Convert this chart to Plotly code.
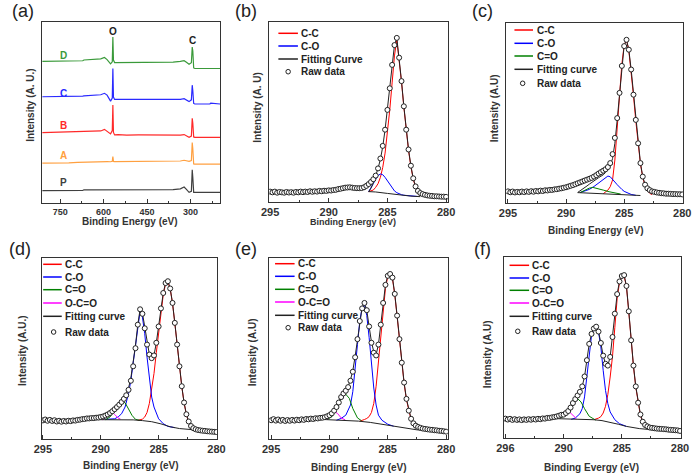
import numpy as np
import plotly.graph_objects as go

W, H = 700, 474
FONT = "Liberation Sans"
INK = "#333333"


def grid(start, n, step=0.2):
    return np.round(start - step * np.arange(n), 2)


# ---------------- panel (a): survey spectra ----------------
XA = [812, 780, 750, 720, 690, 672, 668, 640, 610, 597, 588, 576, 570, 568, 566, 562, 550, 520,
      480, 440, 400, 360, 335, 322, 314, 305, 297, 294, 292, 289, 285, 270, 250, 233, 230, 198]
A_D = [78.3, 78.3, 78.3, 78.5, 78.5, 78.6, 79.0, 79.2, 79.6, 80.4, 79.2, 76.9, 78.0, 91.7, 79.0, 77.6, 77.6, 77.8,
       77.6, 77.6, 77.7, 77.8, 78.2, 78.6, 77.8, 76.7, 77.5, 86.2, 84.0, 74.6, 74.3, 74.3, 74.3, 74.3, 74.6, 74.3]
A_C = [58.7, 58.7, 58.8, 58.9, 59.0, 59.1, 59.2, 59.4, 59.8, 60.6, 59.6, 56.3, 58.0, 74.3, 58.5, 57.2, 57.2, 57.1,
       57.0, 57.0, 57.0, 57.1, 57.3, 57.6, 57.0, 56.0, 57.0, 65.1, 62.0, 55.0, 54.7, 54.7, 54.7, 54.7, 55.2, 54.7]
A_B = [38.9, 39.0, 39.2, 39.1, 39.2, 39.3, 39.4, 39.6, 39.8, 40.7, 39.8, 38.2, 40.0, 54.1, 39.0, 37.6, 37.8, 37.5,
       37.6, 37.5, 37.4, 37.4, 37.5, 37.8, 37.2, 36.3, 37.0, 46.8, 44.0, 36.5, 36.3, 36.3, 36.3, 36.3, 36.6, 36.3]
A_A = [22.0, 22.0, 22.0, 22.2, 22.5, 22.6, 22.7, 22.7, 22.8, 23.0, 22.9, 22.8, 23.0, 25.7, 23.0, 22.9, 22.9, 22.9,
       22.9, 22.9, 22.9, 23.0, 23.2, 23.6, 23.4, 23.0, 23.5, 33.4, 30.0, 21.6, 21.5, 21.5, 21.5, 21.5, 21.6, 21.5]
A_P = [6.8, 6.8, 6.8, 6.8, 6.9, 6.9, 7.3, 7.3, 7.3, 7.3, 7.3, 7.3, 7.4, 7.7, 7.4, 7.3, 7.3, 7.3,
       7.3, 7.3, 7.3, 7.4, 7.8, 8.8, 7.5, 5.9, 6.5, 18.3, 14.0, 5.9, 5.9, 5.9, 5.9, 5.9, 5.9, 5.9]
A_SERIES = [A_D, A_C, A_B, A_A, A_P]
A_NAMES = ["D", "C", "B", "A", "P"]
A_COLORS = ["#3a9a3a", "#2a2aff", "#ff2a2a", "#ffa040", "#404040"]
A_LABEL_X = 738
A_LABEL_Y = [81.7, 60.6, 42.6, 26.1, 11.4]
PEAK_NAMES = ["O", "C"]
PEAK_X = [567.75, 292]
PEAK_Y = [94.5, 89.5]

# ---------------- panel (b) ----------------
RAW_B = [5.6, 5.2, 5.6, 5.0, 5.4, 5.2, 5.0, 5.4, 5.1, 5.3,
         5.0, 5.4, 5.2, 5.6, 5.3, 5.6, 5.4, 5.8, 5.5, 5.8,
         5.6, 6.0, 5.8, 6.1, 6.0, 6.3, 6.2, 6.5, 6.6, 7.0,
         7.2, 7.5, 7.8, 7.9, 8.0, 7.8, 7.6, 7.5, 7.5, 7.6,
         8.0, 8.8, 9.8, 11.0, 12.5, 14.5, 18.5, 24.0, 31.0, 40.0,
         51.0, 63.0, 76.0, 87.0, 91.0, 80.0, 67.0, 53.0, 40.0, 29.0,
         20.0, 13.0, 8.5, 6.0, 4.8, 4.2, 3.8, 3.5, 3.3, 3.2,
         3.0, 3.0, 2.9, 2.8, 2.8, 2.7]
FIT_B_START = 286.6
FIT_B = [5.6, 7.5, 10.5, 14.0, 18.5, 23.5, 30.5, 40.0, 51.0, 63.0, 76.0, 87.0, 91.0, 80.0, 67.0,
         53.0, 40.0, 29.0, 20.0, 13.0, 8.5, 5.5, 3.6]
CC_B_START = 286.6
CC_B = [5.6, 5.9, 6.5, 8.0, 10.0, 13.5, 19.0, 27.0, 38.0, 51.0, 66.0, 81.0, 90.0, 79.5, 66.5,
        52.5, 39.5, 28.5, 19.5, 12.5, 8.0, 5.0, 3.3]
CO_B_X = [286.6, 286.4, 286.2, 286.0, 285.8, 285.6, 285.4, 285.2, 285.0, 284.8, 284.6, 284.4, 284.2,
          284.0, 283.8, 283.6, 283.2, 282.8, 282.4]
CO_B = [5.6, 7.5, 10.0, 12.5, 14.5, 15.4, 15.0, 13.5, 11.5, 9.5, 7.5, 6.0, 5.0, 4.3, 3.9, 3.6, 3.3, 3.1, 2.9]
BG_B_X = [286.6, 286.0, 285.0, 284.0, 283.0, 282.2]
BG_B = [5.6, 5.4, 4.6, 3.8, 3.1, 2.8]

# ---------------- panel (c) ----------------
RAW_C = [6.3, 5.8, 6.2, 5.7, 6.0, 5.8, 6.2, 5.9, 6.3, 6.0,
         6.4, 6.1, 6.5, 6.3, 6.7, 6.5, 6.9, 6.8, 7.1, 7.1,
         7.4, 7.5, 7.8, 8.0, 8.3, 8.6, 9.0, 9.4, 9.8, 10.3,
         10.8, 11.3, 11.8, 12.3, 12.8, 13.3, 13.8, 14.5, 15.3, 16.2,
         17.0, 17.8, 18.6, 19.8, 22.0, 27.0, 36.0, 47.0, 61.0, 76.0,
         87.0, 90.5, 85.0, 74.0, 60.0, 46.0, 33.0, 22.0, 14.5, 10.0,
         8.0, 7.0, 6.3, 6.0, 5.7, 5.5, 5.3, 5.2, 5.0, 5.0,
         4.9, 4.8, 4.8, 4.7, 4.7, 4.6]
FIT_C_START = 289.0
FIT_C = [5.7, 6.5, 7.4, 8.3, 9.3, 10.3, 11.3, 12.3, 13.1, 13.9, 14.7, 15.5, 16.8, 18.5, 20.5, 24.5,
         33.0, 46.0, 61.0, 77.0, 87.5, 90.5, 85.0, 74.0, 60.0, 46.0, 33.0, 22.0, 14.5, 10.0, 7.5, 6.0, 5.2]
CC_C_START = 286.8
CC_C = [5.0, 5.8, 7.0, 8.9, 12.6, 23.7, 40.0, 59.0, 77.0, 87.6, 90.5, 84.5, 73.5, 59.5, 45.5,
        32.5, 21.5, 14.0, 9.5, 6.8, 5.2, 4.5]
CO_C_X = [288.8, 288.4, 288.0, 287.6, 287.2, 286.8, 286.6, 286.4, 286.2, 286.0, 285.8, 285.6, 285.4,
          285.2, 285.0, 284.8, 284.4, 284.0]
CO_C = [5.6, 6.5, 7.4, 9.0, 11.0, 13.2, 14.3, 14.8, 14.4, 13.2, 11.5, 10.0, 8.5, 7.4, 6.3, 5.6, 4.6, 4.1]
CEO_C_X = [288.8, 288.4, 288.0, 287.7, 287.3, 286.8, 286.3, 285.8, 285.3]
CEO_C = [5.6, 7.0, 8.1, 8.5, 8.0, 7.0, 6.1, 5.4, 4.8]
BG_C_X = [289.0, 288.0, 287.0, 286.0, 285.0, 284.0, 283.6]
BG_C = [5.6, 5.3, 5.0, 4.7, 4.4, 4.1, 4.0]

# ---------------- panel (d) ----------------
RAW_D = [10.1, 10.6, 9.9, 10.4, 9.8, 10.2, 9.5, 9.9, 9.4, 9.8,
         9.5, 9.9, 9.7, 10.1, 10.0, 10.4, 10.5, 10.8, 10.9, 11.2,
         11.2, 11.4, 11.4, 11.6, 11.7, 12.0, 12.3, 12.8, 13.4, 14.2,
         15.2, 16.3, 17.5, 18.8, 20.3, 22.0, 24.0, 27.0, 32.0, 40.0,
         50.0, 63.0, 71.5, 69.0, 61.0, 52.0, 46.5, 44.5, 46.0, 53.0,
         62.0, 72.0, 80.5, 86.0, 87.0, 83.0, 75.0, 64.0, 52.0, 40.0,
         29.0, 20.0, 13.5, 9.5, 7.0, 5.8, 5.2, 4.8, 4.6, 4.4,
         4.3, 4.1, 4.0, 3.9, 3.8, 3.7]
FIT_D_START = 290.2
FIT_D = [10.6, 10.9, 11.4, 12.0, 13.0, 14.5, 16.0, 17.3, 18.6, 19.8, 21.0, 22.5, 24.5, 28.0, 33.5, 42.0,
         51.5, 63.0, 71.5, 69.5, 61.5, 52.0, 46.5, 44.5, 46.0, 53.0, 62.0, 72.0, 80.5, 86.0, 87.0, 83.0,
         75.0, 64.0, 52.0, 40.0, 29.0, 20.0, 13.5, 9.5, 7.0, 5.8]
CC_D_START = 286.8
CC_D = [10.1, 10.3, 10.8, 12.0, 14.5, 19.5, 27.0, 36.0, 47.5, 59.0, 70.0, 79.5, 85.5, 86.8, 82.8,
        74.8, 63.8, 51.8, 39.8, 28.8, 19.8, 13.3, 9.0, 6.6, 5.5]
CO_D_X = [289.6, 288.8, 288.5, 288.2, 287.9, 287.6, 287.4, 287.2, 287.0, 286.8, 286.6, 286.4, 286.2,
          286.0, 285.8, 285.6, 285.4, 285.2, 285.0, 284.6, 284.2, 283.6]
CO_D = [10.7, 11.0, 12.0, 13.8, 17.5, 24.9, 32.2, 41.4, 50.6, 61.7, 70.5, 67.2, 58.0,
        45.1, 32.2, 23.0, 17.5, 13.8, 11.0, 8.3, 6.8, 6.1]
CEO_D_X = [289.6, 289.2, 288.9, 288.6, 288.3, 288.15, 287.9, 287.6, 287.3, 287.0, 286.6]
CEO_D = [10.5, 12.0, 14.7, 18.4, 20.4, 20.8, 19.9, 16.6, 12.9, 10.7, 10.1]
OCO_D_X = [289.85, 289.5, 289.2, 289.05, 288.8, 288.5, 288.3]
OCO_D = [10.5, 12.0, 14.2, 14.9, 13.4, 11.4, 10.9]
BG_D_X = [290.2, 289.0, 288.0, 287.2, 286.4, 285.6, 284.8, 284.0, 283.2, 282.4, 281.2, 280.0]
BG_D = [10.5, 10.5, 10.5, 10.4, 10.0, 9.4, 8.2, 6.6, 5.6, 5.0, 4.5, 4.2]

# ---------------- panel (e) ----------------
RAW_E = [10.2, 10.8, 10.0, 10.6, 9.9, 10.4, 9.8, 10.3, 9.9, 10.4,
         10.0, 10.5, 10.2, 10.7, 10.4, 10.9, 10.7, 11.1, 10.9, 11.3,
         11.2, 11.5, 11.6, 11.9, 12.4, 13.0, 14.0, 15.5, 17.5, 20.0,
         23.0, 25.0, 26.5, 28.5, 32.0, 37.0, 45.0, 55.0, 65.0, 72.0,
         75.0, 71.0, 62.0, 53.0, 47.5, 46.0, 52.0, 63.0, 75.0, 85.0,
         90.0, 91.0, 89.0, 80.0, 68.0, 55.0, 42.0, 31.0, 22.0, 15.5,
         11.0, 8.5, 7.2, 6.5, 6.0, 5.6, 5.4, 5.2, 5.0, 4.9,
         4.7, 4.6, 4.4, 4.3, 4.1, 3.9]
FIT_E_START = 290.4
FIT_E = [10.8, 11.2, 12.5, 14.0, 16.0, 18.5, 21.0, 23.5, 25.5, 27.0, 29.0, 32.5, 37.5, 45.5, 55.5, 65.5,
         72.5, 75.0, 71.0, 62.0, 53.5, 48.0, 46.5, 52.0, 63.0, 75.0, 85.0, 90.0, 91.0, 89.0, 80.0, 68.0,
         55.0, 42.0, 31.0, 22.0, 15.5, 11.0, 8.5, 7.0, 6.0, 5.5, 5.2]
CC_E_START = 287.4
CC_E = [9.7, 10.0, 10.6, 11.2, 12.2, 14.5, 19.5, 29.0, 42.0, 56.0, 71.0, 83.0, 89.5, 90.5, 88.5,
        79.5, 67.5, 54.5, 41.5, 30.5, 21.5, 15.0, 10.5, 8.0, 6.6, 5.8, 5.3, 5.0]
CO_E_X = [289.4, 289.0, 288.6, 288.2, 288.0, 287.8, 287.6, 287.4, 287.2, 287.0, 286.8, 286.6, 286.4,
          286.2, 286.0, 285.8, 285.5, 285.0, 284.5]
CO_E = [10.2, 11.2, 13.0, 18.6, 26.0, 37.2, 52.0, 65.0, 72.5, 74.0, 68.0, 56.0, 41.0, 28.0, 18.6, 13.0,
        10.2, 8.0, 6.9]
CEO_E_X = [290.2, 289.8, 289.4, 289.0, 288.65, 288.3, 288.0, 287.6, 287.25]
CEO_E = [10.6, 12.1, 16.7, 22.3, 24.9, 22.3, 16.7, 11.5, 9.9]
OCO_E_X = [290.2, 289.9, 289.6, 289.3, 289.0, 288.65]
OCO_E = [10.6, 13.0, 15.2, 13.9, 11.5, 10.4]
BG_E_X = [290.5, 289.5, 288.5, 287.5, 286.5, 285.5, 284.5, 283.5, 282.5, 281.5, 280.0]
BG_E = [10.6, 10.4, 10.1, 9.7, 9.0, 8.0, 6.8, 5.6, 4.9, 4.5, 4.1]

# ---------------- panel (f) ----------------
RAW_F = [10.7, 10.2, 10.6, 10.0, 10.4, 10.0, 10.3, 9.9, 10.3, 10.0,
         10.4, 10.1, 10.5, 10.2, 10.6, 10.4, 10.8, 10.7, 11.1, 11.1,
         11.4, 11.6, 11.9, 12.3, 12.8, 12.9, 13.8, 14.9, 16.8, 19.3,
         21.5, 23.5, 25.5, 28.5, 34.0, 43.0, 52.0, 57.5, 60.5, 61.5,
         58.8, 52.5, 45.5, 41.0, 40.0, 44.8, 55.8, 68.7, 79.5, 86.5,
         89.5, 90.0, 84.0, 70.0, 54.0, 40.0, 28.5, 19.5, 13.0, 9.0,
         7.2, 6.4, 5.8, 5.6, 5.4, 5.2, 5.1, 5.0, 4.9, 4.8,
         4.6, 4.5, 4.4, 4.3, 4.2, 3.9]
FIT_F_START = 290.6
FIT_F = [11.0, 11.4, 12.0, 12.9, 13.8, 15.0, 16.8, 19.2, 21.5, 23.5, 25.5, 28.5, 34.0, 43.0, 52.0, 57.5,
         60.5, 61.5, 58.8, 52.5, 45.5, 41.0, 40.0, 44.8, 55.8, 68.7, 79.5, 86.5, 89.5, 90.0, 84.0, 70.0,
         54.0, 40.0, 28.5, 19.5, 13.0, 9.0, 7.2, 6.2, 5.5]
CC_F_START = 287.4
CC_F = [10.1, 10.5, 11.0, 11.8, 13.8, 17.5, 24.0, 33.7, 45.0, 61.0, 77.0, 86.0, 89.0, 89.5, 83.5,
        69.5, 53.5, 39.5, 28.0, 19.0, 12.5, 8.6, 6.8, 5.8, 5.2]
CO_F_X = [289.35, 289.0, 288.6, 288.4, 288.2, 288.0, 287.8, 287.6, 287.4, 287.2, 287.0, 286.8, 286.6,
          286.4, 286.2, 286.0, 285.6, 285.2, 284.6]
CO_F = [10.3, 11.0, 13.4, 16.2, 22.7, 33.7, 46.6, 56.7, 60.4, 61.3, 58.6, 50.3, 37.4, 26.3, 19.0, 14.4,
        10.1, 7.9, 6.4]
CEO_F_X = [290.3, 290.0, 289.6, 289.2, 288.85, 288.5, 288.2, 287.8, 287.25]
CEO_F = [11.0, 12.0, 14.9, 19.9, 22.1, 19.9, 16.2, 12.0, 9.9]
OCO_F_X = [290.3, 290.0, 289.7, 289.4, 289.1, 288.9]
OCO_F = [11.0, 13.1, 15.3, 13.8, 11.6, 10.7]
BG_F_X = [290.7, 289.5, 288.5, 287.4, 286.7, 286.0, 285.3, 284.6, 284.0, 283.5, 282.5, 281.0, 280.0]
BG_F = [10.7, 10.5, 10.3, 10.1, 9.6, 8.8, 7.6, 6.4, 5.7, 5.2, 4.6, 4.2, 3.9]

RAW_START = 295.0

# legends (labels per panel)
LEG_B = ["C-C", "C-O", "Fitting Curve", "Raw data"]
LEG_C = ["C-C", "C-O", "C=O", "Fitting curve", "Raw data"]
LEG_DEF = ["C-C", "C-O", "C=O", "O-C=O", "Fitting curve", "Raw data"]
COL_CC, COL_CO, COL_CEO, COL_OCO, COL_FIT = "#ff0000", "#0000ff", "#008000", "#ff00ff", "#222222"

X_TITLES = ["Binding Energy (eV)"] * 5 + ["Binding Evergy (eV)"]
Y_TITLES = ["Intensity (A. U.)", "Intensity (A. U)", "Intensity (A.U)",
            "Intensity (A.U.)", "Intensity (A.U)", "Intensity (A.U)"]
PANEL_TAGS = ["(a)", "(b)", "(c)", "(d)", "(e)", "(f)"]
XPS_TICKS = [295, 290, 285, 280]
XPS_MINOR = [292.5, 287.5, 282.5]
A_TICKS = [750, 600, 450, 300]
A_MINOR = [675, 525, 375, 225]

# ---------------- layout geometry (pixels) ----------------
BOX = [(35, 217, 22, 203), (267.3, 450, 21.7, 201.7), (510, 691, 22.7, 202.7),
       (34.3, 214.3, 257.7, 438.7), (267.3, 450, 257.7, 438.7), (507.7, 688.7, 257, 438)]
XRANGES = [[812, 198], [295.08, 279.86], [295.14, 279.92], [295.12, 279.92], [295.17, 279.86], [295.11, 279.92]]
TAG_POS = [(15, 11.5), (244, 11.5), (486, 11.5), (12.5, 248.5), (244, 248.5), (486, 248.5)]
XT_POS = [(125, 221.7), (353.3, 221.7), (601.7, 230), (125.7, 465.3), (358.7, 467), (597.3, 467)]
YT_POS = [(23.3, 105), (255, 107.5), (497.3, 108.3), (15, 350.3), (250, 352), (491, 354.5)]
LEG_GEOM = {  # line x0, x1, text x, marker x, row ys
    2: (276.7, 296.7, 298.3, 286.7, [33.3, 46, 59, 71.7]),
    3: (518.3, 537.3, 539, 526.7, [30, 43.3, 56, 69.3, 83.3]),
    4: (36, 55, 56, 46.7, [264.3, 277, 289.7, 303, 316.3, 332]),
    5: (273.3, 293.3, 294.3, 286.7, [263.7, 276.3, 289.3, 302, 315.3, 327.7]),
    6: (513.3, 533.3, 534, 521.7, [265.3, 278, 290.3, 303, 316.3, 331.3]),
}

fig = go.Figure()


def ax(n):
    return ("x" if n == 1 else f"x{n}"), ("y" if n == 1 else f"y{n}")


def line(n, x, y, color, width=1.0):
    xa, ya = ax(n)
    fig.add_trace(go.Scatter(x=x, y=y, mode="lines", xaxis=xa, yaxis=ya,
                             line=dict(color=color, width=width), hoverinfo="skip"))


def raw(n, y):
    xa, ya = ax(n)
    fig.add_trace(go.Scatter(x=grid(RAW_START, len(y)), y=y, mode="markers", xaxis=xa, yaxis=ya,
                             marker=dict(symbol="circle", size=5, color="white",
                                         line=dict(color="#222222", width=1)),
                             hoverinfo="skip"))


# panel a
for ys, c in zip(A_SERIES, A_COLORS):
    line(1, XA, ys, c, 1.2)

# panel b
line(2, grid(CC_B_START, len(CC_B)), CC_B, COL_CC)
line(2, CO_B_X, CO_B, COL_CO)
line(2, BG_B_X, BG_B, COL_FIT)
line(2, grid(FIT_B_START, len(FIT_B)), FIT_B, COL_FIT)
raw(2, RAW_B)

# panel c
line(3, grid(CC_C_START, len(CC_C)), CC_C, COL_CC)
line(3, CO_C_X, CO_C, COL_CO)
line(3, CEO_C_X, CEO_C, COL_CEO)
line(3, BG_C_X, BG_C, COL_FIT)
line(3, grid(FIT_C_START, len(FIT_C)), FIT_C, COL_FIT)
raw(3, RAW_C)

# panels d, e, f
for n, cc0, cc, cox, co, cex, ce, ox, oo, bx, bg, f0, ft, rw in [
    (4, CC_D_START, CC_D, CO_D_X, CO_D, CEO_D_X, CEO_D, OCO_D_X, OCO_D, BG_D_X, BG_D, FIT_D_START, FIT_D, RAW_D),
    (5, CC_E_START, CC_E, CO_E_X, CO_E, CEO_E_X, CEO_E, OCO_E_X, OCO_E, BG_E_X, BG_E, FIT_E_START, FIT_E, RAW_E),
    (6, CC_F_START, CC_F, CO_F_X, CO_F, CEO_F_X, CEO_F, OCO_F_X, OCO_F, BG_F_X, BG_F, FIT_F_START, FIT_F, RAW_F),
]:
    line(n, grid(cc0, len(cc)), cc, COL_CC)
    line(n, cox, co, COL_CO)
    line(n, cex, ce, COL_CEO)
    line(n, ox, oo, COL_OCO)
    line(n, bx, bg, COL_FIT)
    line(n, grid(f0, len(ft)), ft, COL_FIT)
    raw(n, rw)

layout = dict(width=W, height=H, margin=dict(l=0, r=0, t=0, b=0), showlegend=False,
              paper_bgcolor="white", plot_bgcolor="white")
annotations = []
shapes = []

for i, (x0, x1, y0, y1) in enumerate(BOX):
    n = i + 1
    xa, ya = ax(n)
    xkey = "xaxis" if n == 1 else f"xaxis{n}"
    ykey = "yaxis" if n == 1 else f"yaxis{n}"
    is_a = n == 1
    ticks = A_TICKS if is_a else XPS_TICKS
    ttext = [str(t) for t in ticks]
    if n == 6:
        ttext = ["296", "290", "285", "280"]
    layout[xkey] = dict(domain=[x0 / W, x1 / W], anchor=ya, range=XRANGES[i],
                        tickmode="array", tickvals=ticks, ticktext=ttext,
                        ticks="inside", ticklen=4, tickwidth=1, tickcolor=INK,
                        minor=dict(tickmode="array", tickvals=A_MINOR if is_a else XPS_MINOR,
                                   ticks="inside", ticklen=2, tickwidth=1, tickcolor=INK, showgrid=False),
                        showline=True, mirror=True, linecolor=INK, linewidth=1,
                        showgrid=False, zeroline=False,
                        tickfont=dict(family=FONT, size=9 if is_a else 11, color=INK, weight="bold"))
    layout[ykey] = dict(domain=[1 - y1 / H, 1 - y0 / H], anchor=xa, range=[0, 100],
                        showticklabels=False, ticks="", showline=True, mirror=True,
                        linecolor=INK, linewidth=1, showgrid=False, zeroline=False)
    # panel tag
    tx, ty = TAG_POS[i]
    annotations.append(dict(text=PANEL_TAGS[i], x=tx / W, y=1 - ty / H, xref="paper", yref="paper",
                            showarrow=False, xanchor="center", yanchor="middle",
                            font=dict(family=FONT, size=18, color="#222222")))
    # axis titles
    px, py = XT_POS[i]
    annotations.append(dict(text=X_TITLES[i], x=px / W, y=1 - py / H, xref="paper", yref="paper",
                            showarrow=False, xanchor="center", yanchor="middle",
                            font=dict(family=FONT, size=9 if n == 2 else 10, color=INK, weight="bold")))
    px, py = YT_POS[i]
    annotations.append(dict(text=Y_TITLES[i], x=px / W, y=1 - py / H, xref="paper", yref="paper",
                            showarrow=False, xanchor="center", yanchor="middle", textangle=-90,
                            font=dict(family=FONT, size=10, color=INK, weight="bold")))

# panel a labels
for name, c, yv in zip(A_NAMES, A_COLORS, A_LABEL_Y):
    annotations.append(dict(text=name, x=A_LABEL_X, y=yv, xref="x", yref="y", showarrow=False,
                            font=dict(family=FONT, size=10, color=c, weight="bold")))
for name, xv, yv in zip(PEAK_NAMES, PEAK_X, PEAK_Y):
    annotations.append(dict(text=name, x=xv, y=yv, xref="x", yref="y", showarrow=False,
                            font=dict(family=FONT, size=10, color="#222222", weight="bold")))

# manual legends
LEG_LABELS = {2: LEG_B, 3: LEG_C, 4: LEG_DEF, 5: LEG_DEF, 6: LEG_DEF}
LEG_COLORS = {2: [COL_CC, COL_CO, COL_FIT], 3: [COL_CC, COL_CO, COL_CEO, COL_FIT],
              4: [COL_CC, COL_CO, COL_CEO, COL_OCO, COL_FIT],
              5: [COL_CC, COL_CO, COL_CEO, COL_OCO, COL_FIT],
              6: [COL_CC, COL_CO, COL_CEO, COL_OCO, COL_FIT]}
for n, (lx0, lx1, tx, mx, rows) in LEG_GEOM.items():
    labels = LEG_LABELS[n]
    cols = LEG_COLORS[n]
    for j, (lab, ry) in enumerate(zip(labels, rows)):
        if j < len(cols):
            shapes.append(dict(type="line", xref="paper", yref="paper",
                               x0=lx0 / W, x1=lx1 / W, y0=1 - ry / H, y1=1 - ry / H,
                               line=dict(color=cols[j], width=1.5)))
        else:
            r = 2.3
            shapes.append(dict(type="circle", xref="paper", yref="paper",
                               x0=(mx - r) / W, x1=(mx + r) / W, y0=1 - (ry + r) / H, y1=1 - (ry - r) / H,
                               line=dict(color="#222222", width=1), fillcolor="white"))
        annotations.append(dict(text=lab, x=tx / W, y=1 - ry / H, xref="paper", yref="paper",
                                showarrow=False, xanchor="left", yanchor="middle",
                                font=dict(family=FONT, size=10, color="#222222", weight="bold")))

layout["annotations"] = annotations
layout["shapes"] = shapes
fig.update_layout(**layout)
# remove the browser's default 8px body margin so the 700x474 figure fills the window exactly
fig.write_html("out.html",
               config={"displayModeBar": False, "staticPlot": True},
               post_script="document.body.style.margin='0';document.body.style.overflow='hidden';")
